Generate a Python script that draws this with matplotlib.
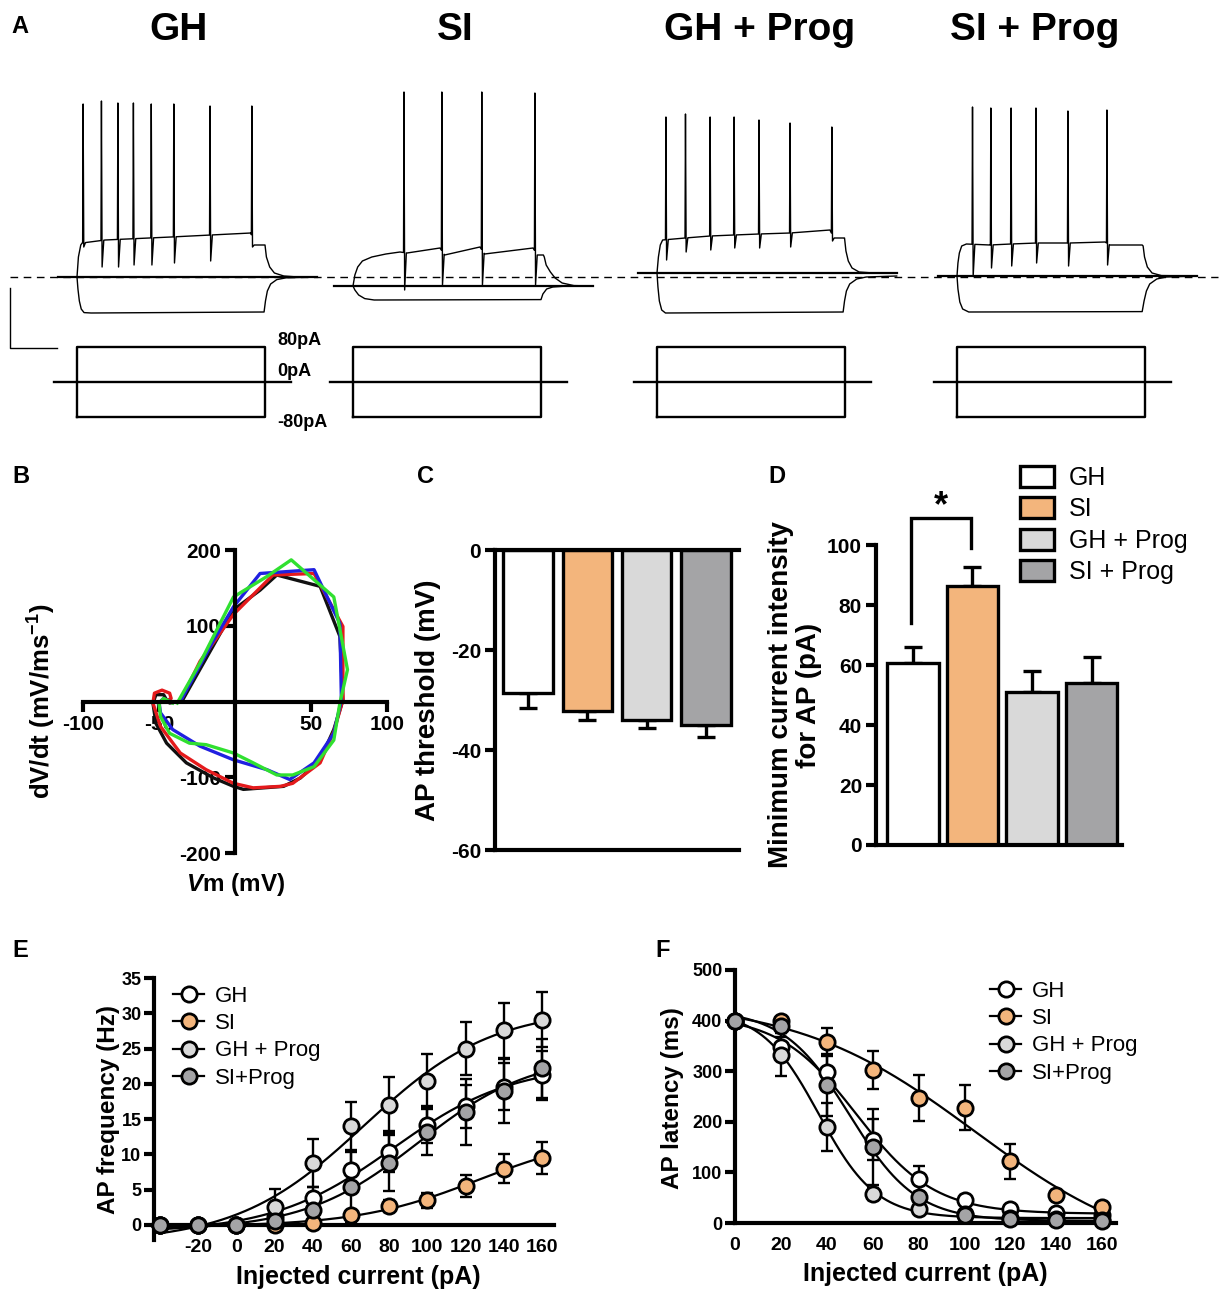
import numpy as np
import matplotlib
matplotlib.use("Agg")
import matplotlib.pyplot as plt
from matplotlib.lines import Line2D
from matplotlib.patches import Patch

plt.rcParams['font.family'] = ['Liberation Sans', 'DejaVu Sans']
plt.rcParams['axes.unicode_minus'] = False
plt.rcParams['mathtext.fontset'] = 'custom'
plt.rcParams['mathtext.rm'] = 'Liberation Sans:bold'
plt.rcParams['mathtext.it'] = 'Liberation Sans:italic:bold'
plt.rcParams['mathtext.bf'] = 'Liberation Sans:bold'
plt.rcParams['mathtext.default'] = 'rm'

# ---------------------------------------------------------------- data
GROUPS = ["GH", "SI", "GH + Prog", "SI + Prog"]
LEGEND_EF = ["GH", "SI", "GH + Prog", "SI+Prog"]
GROUP_COLORS = ["#FFFFFF", "#F3B57C", "#D9D9D9", "#A4A4A6"]

# Panel A: whole-cell current-clamp traces (time in ms, voltage in mV)
STEP_MS = (0, 400)
STEP_PA = 80
TRACE_SPAN_MS = (-40, 510)
STIM_SPAN_MS = (-50, 455)
REST_MV = [-65, -69.5, -63, -64.5]
DASH_MV = -65
SCALE_MS, SCALE_MV = 100, 30

HYP_GH = [(-40, -65), (0, -65), (2, -71), (5, -77), (9, -81), (15, -82.8), (30, -83), (398, -82.5),
          (401, -77), (405, -72), (412, -68.5), (425, -66.3), (445, -65.4), (510, -65)]
HYP_SI = [(-40, -69.5), (0, -69.5), (4, -71.5), (12, -74), (25, -75.8), (45, -76.5), (400, -76.3),
          (404, -73.5), (412, -71), (425, -70), (450, -69.6), (510, -69.5)]
HYP_GHP = [(-40, -63), (0, -63), (2, -70), (5, -77), (10, -81.5), (18, -83), (396, -82.5), (399, -77),
           (403, -72), (410, -68.5), (425, -66), (445, -65), (510, -64.5)]
HYP_SIP = [(-40, -64.5), (0, -64.5), (2, -71), (6, -77.5), (12, -81), (25, -82.5), (394, -82.3),
           (398, -77), (403, -72), (410, -68.5), (425, -66), (445, -65), (510, -64.5)]

ONSET_GH = [(-40, -65), (0, -65), (3, -55), (8, -49), (11, -48)]
ONSET_SI = [(-40, -69.5), (0, -69.5), (4, -64), (10, -60), (20, -57), (40, -55), (70, -53.5), (100, -52.5)]
ONSET_GHP = [(-40, -63), (0, -63), (3, -55), (7, -49), (12, -46.5)]
ONSET_SIP = [(-40, -64.5), (0, -64.5), (2, -58), (5, -53), (10, -49.5), (20, -48.5)]

PLAT_GH = [(11, -48), (60, -46.5), (200, -45), (370, -43), (377, -49), (398, -49)]
PLAT_SI = [(100, -52.5), (115, -53), (185, -50.5), (195, -54), (270, -50), (280, -53.5), (383, -50.5),
           (392, -54), (405, -54)]
PLAT_GHP = [(12, -46.5), (60, -45.5), (113, -44.5), (164, -44), (217, -43.5), (283, -43), (368, -41.5),
            (376, -45.5), (398, -45.5)]
PLAT_SIP = [(20, -48.5), (70, -49), (115, -48.5), (170, -48), (240, -48), (315, -47.5), (325, -49), (394, -49)]

SPK_T_GH = [13, 52, 87, 120, 158, 206, 283, 372]
SPK_PK_GH = [21.5, 23, 22, 22, 21.5, 21.5, 20.5, 20.5]
SPK_TR_GH = [-50, -60, -60, -59, -59, -58, -57, -50]
SPK_T_SI = [108.5, 189, 274, 387]
SPK_PK_SI = [27.5, 27.5, 27.5, 27]
SPK_TR_SI = [-71.5, -69, -69, -69]
SPK_T_GHP = [19, 60.6, 113, 164, 217, 283, 372]
SPK_PK_GHP = [15, 16.5, 15, 15, 13.5, 12, 10]
SPK_TR_GHP = [-56.5, -52.5, -51.5, -50.5, -50.5, -50, -47]
SPK_T_SIP = [33, 72, 115, 168, 236, 319]
SPK_PK_SIP = [20, 19.5, 19.5, 19.5, 18, 18.5]
SPK_TR_SIP = [-64.5, -60.5, -59.5, -58, -59.5, -59]

OFF_GH = [(400, -49), (403, -55), (410, -60), (420, -63), (440, -64.5), (470, -65), (510, -65)]
OFF_SI = [(407, -55), (411, -59), (420, -62.5), (430, -65.5), (445, -68), (470, -69.3), (510, -69.5)]
OFF_GHP = [(399, -45.5), (402, -52), (407, -57), (415, -60.5), (430, -62.5), (460, -63), (510, -63)]
OFF_SIP = [(396, -49.5), (399, -55), (405, -60), (415, -63), (435, -64.3), (510, -64.5)]

HYP = [HYP_GH, HYP_SI, HYP_GHP, HYP_SIP]
ONSET = [ONSET_GH, ONSET_SI, ONSET_GHP, ONSET_SIP]
PLAT = [PLAT_GH, PLAT_SI, PLAT_GHP, PLAT_SIP]
SPK_T = [SPK_T_GH, SPK_T_SI, SPK_T_GHP, SPK_T_SIP]
SPK_PK = [SPK_PK_GH, SPK_PK_SI, SPK_PK_GHP, SPK_PK_SIP]
SPK_TR = [SPK_TR_GH, SPK_TR_SI, SPK_TR_GHP, SPK_TR_SIP]
OFF = [OFF_GH, OFF_SI, OFF_GHP, OFF_SIP]

# Panel B: phase plots (Vm in mV, dV/dt in mV/ms)
PH_BLACK_V = [-35, -1, 16.5, 27.5, 56, 69, 71, 65, 56, 43, 32, 5.5, -1, -14, -32, -45, -52, -54, -52, -47, -45, -43, -40]
PH_BLACK_D = [0, 121, 147, 167, 152, 86, 2, -37, -77, -101, -112, -116, -112, -101, -81, -55, -29, -2, 9, 9, 2, -2, -1]
PH_RED_V = [-36, -23, -1, 25, 52, 71, 71, 65, 56, 38, 30, 12, -1, -19, -36, -49, -54, -53, -48, -43, -42, -46]
PH_RED_D = [0, 53, 115, 167, 169, 99, 2, -40, -81, -108, -112, -114, -108, -90, -68, -33, -2, 11, 15, 11, 4, 0]
PH_BLUE_V = [-36, -14, -1, 16.5, 52, 69, 70, 65, 52, 36, 21, -1, -23, -41, -49, -50, -47, -43]
PH_BLUE_D = [0, 81, 125, 169, 174, 103, 2, -42, -81, -103, -90, -77, -59, -37, -15, -2, 4, 0]
PH_GREEN_V = [-38, -23, -1, 21, 37, 65, 74, 69, 65, 52, 38, 27.5, 12, -1, -19, -30, -43, -49, -50, -47, -41]
PH_GREEN_D = [-2, 51, 138, 165, 187, 138, 42, -2, -51, -86, -97, -97, -81, -68, -57, -55, -42, -20, -2, 4, -2]
PH_COLORS = ["#111111", "#E41A1C", "#2020E0", "#30E030"]

# Panel C / D bars
C_VALUES = [-28.6, -32.2, -34.0, -35.0]
C_ERR = [3.0, 1.7, 1.6, 2.4]
D_VALUES = [60.7, 86.3, 51.0, 54.0]
D_ERR = [5.3, 6.4, 7.0, 8.7]

# Panel E: AP frequency (Hz) vs injected current (pA)
E_X = [-40, -20, 0, 20, 40, 60, 80, 100, 120, 140, 160]
E_GH = [0, 0, 0, 1.1, 3.8, 7.8, 10.4, 14.2, 16.8, 19.6, 21.2]
E_GH_ERR = [0, 0, 0, 0.5, 1.6, 2.6, 2.9, 2.6, 3.0, 3.3, 3.5]
E_SI = [0, 0, 0, 0, 0.3, 1.4, 2.7, 3.5, 5.5, 8.0, 9.5]
E_SI_ERR = [0, 0, 0, 0, 0.3, 0.5, 0.8, 1.1, 1.6, 2.0, 2.3]
E_GHP = [0, 0, 0, 2.6, 8.8, 14.0, 17.0, 20.4, 25.0, 27.6, 29.1]
E_GHP_ERR = [0, 0, 0, 2.5, 3.4, 3.4, 3.9, 3.8, 3.8, 3.9, 3.9]
E_SIP = [0, 0, 0, 0.5, 2.1, 5.4, 8.8, 13.2, 16.0, 19.0, 22.2]
E_SIP_ERR = [0, 0, 0, 0.4, 1.2, 5.1, 4.0, 3.3, 4.7, 4.5, 4.2]

# Panel F: AP latency (ms) vs injected current (pA)
F_X = [0, 20, 40, 60, 80, 100, 120, 140, 160]
F_GH = [400, 348, 299, 165, 87, 45, 28, 20, 15]
F_GH_ERR = [0, 20, 35, 40, 25, 10, 6, 5, 4]
F_SI = [400, 400, 358, 302, 247, 228, 122, 55, 32]
F_SI_ERR = [0, 8, 27, 37, 45, 45, 35, 10, 6]
F_GHP = [400, 333, 190, 57, 28, 18, 10, 8, 5]
F_GHP_ERR = [0, 43, 47, 12, 6, 4, 3, 2, 2]
F_SIP = [400, 390, 272, 150, 52, 15, 8, 5, 3]
F_SIP_ERR = [0, 10, 60, 75, 10, 4, 3, 2, 2]

# ---------------------------------------------------------------- helpers
W, H = 1225, 1300
fig = plt.figure(figsize=(W / 100, H / 100), dpi=100)


def px_axes(x0, y0, x1, y1):
    return fig.add_axes([x0 / W, 1 - y1 / H, (x1 - x0) / W, (y1 - y0) / H])


def ftext(x, y, s, **kw):
    return fig.text(x / W, 1 - y / H, s, **kw)


def dep_trace(onset, plateau, st, pk, tr, offset):
    pt, pv = np.array(plateau).T
    wins = [(t - 1.0, t + 5.0) for t in st]
    pts = list(onset)
    body = [(t, v) for t, v in plateau if not any(a <= t <= b for a, b in wins)]
    for t, p, r in zip(st, pk, tr):
        body += [(t - 1.0, np.interp(t - 1.0, pt, pv)), (t, p), (t + 1.4, r),
                 (t + 5.0, np.interp(t + 5.0, pt, pv))]
    body.sort()
    pts += body + list(offset)
    return np.array(pts).T


def boltzmann_fit(x, y):
    x = np.asarray(x, float)
    y = np.asarray(y, float)
    v50 = np.arange(-40, 260, 0.5)
    ks = np.arange(3, 80, 0.5)
    V, K = np.meshgrid(v50, ks, indexing='ij')
    F = 1.0 / (1.0 + np.exp((V[..., None] - x) / K[..., None]))
    Fm = F.mean(-1)
    ym = y.mean()
    Fc = F - Fm[..., None]
    b = (Fc * (y - ym)).sum(-1) / ((Fc ** 2).sum(-1) + 1e-12)
    a = ym - b * Fm
    sse = ((a[..., None] + b[..., None] * F - y) ** 2).sum(-1)
    i = np.unravel_index(np.argmin(sse), sse.shape)
    return lambda xx: a[i] + b[i] / (1.0 + np.exp((V[i] - xx) / K[i]))


# ---------------------------------------------------------------- panel A
PX_MS, PX_MV, PX_PA = 0.47, 2.0, 0.4375
Y_DASH, Y_ZERO_PA = 277, 382
T_LIM, V_LIM, I_LIM = (-55, 520), (-92, 44), (-110, 110)
ONSET_PX = [77, 353, 657, 957]
TITLE_X = [179, 455, 760, 1035]

axd = px_axes(0, Y_DASH - (V_LIM[1] - DASH_MV) * PX_MV, W, Y_DASH + (DASH_MV - V_LIM[0]) * PX_MV)
axd.set_xlim(0, W)
axd.set_ylim(V_LIM)
axd.axis('off')
axd.plot([10, 1218], [DASH_MV, DASH_MV], color='black', lw=1.0, ls=(0, (5.5, 4)))

for i, g in enumerate(GROUPS):
    on = ONSET_PX[i]
    x0, x1 = on + T_LIM[0] * PX_MS, on + T_LIM[1] * PX_MS
    axv = px_axes(x0, Y_DASH - (V_LIM[1] - DASH_MV) * PX_MV, x1, Y_DASH + (DASH_MV - V_LIM[0]) * PX_MV)
    axv.set_xlim(T_LIM)
    axv.set_ylim(V_LIM)
    axv.axis('off')
    axv.plot(TRACE_SPAN_MS, [REST_MV[i]] * 2, color='black', lw=1.6)
    ht, hv = np.array(HYP[i]).T
    axv.plot(ht, hv, color='black', lw=1.0)
    dt, dv = dep_trace(ONSET[i], PLAT[i], SPK_T[i], SPK_PK[i], SPK_TR[i], OFF[i])
    axv.plot(dt, dv, color='black', lw=1.0)
    if i == 0:
        sb_t = (10 - on) / PX_MS
        sb_v = DASH_MV - (288 - Y_DASH) / PX_MV
        axv.plot([sb_t, sb_t, sb_t + SCALE_MS], [sb_v, sb_v - SCALE_MV, sb_v - SCALE_MV],
                 color='black', lw=1.0, clip_on=False)

    axi = px_axes(x0, Y_ZERO_PA - I_LIM[1] * PX_PA, x1, Y_ZERO_PA - I_LIM[0] * PX_PA)
    axi.set_xlim(T_LIM)
    axi.set_ylim(I_LIM)
    axi.axis('off')
    axi.plot(STIM_SPAN_MS, [0, 0], color='black', lw=1.7)
    s0, s1 = STEP_MS
    axi.plot([s0, s0, s1, s1, s0], [-STEP_PA, STEP_PA, STEP_PA, -STEP_PA, -STEP_PA], color='black', lw=1.7)
    ftext(TITLE_X[i], 40, g, fontsize=28, fontweight='bold', ha='center', va='baseline')

ftext(277, 345, "80pA", fontsize=13, fontweight='bold', va='baseline')
ftext(277, 376, "0pA", fontsize=13, fontweight='bold', va='baseline')
ftext(277, 427, "-80pA", fontsize=13, fontweight='bold', va='baseline')

# panel letters
for lab, x, y in [("A", 20, 33), ("B", 21, 483), ("C", 425, 483), ("D", 777, 483), ("E", 20, 957), ("F", 663, 957)]:
    ftext(x, y, lab, fontsize=17, fontweight='bold', ha='center', va='baseline')

AX_LW = 3.0

# ---------------------------------------------------------------- panel B
axB = px_axes(83, 550, 387, 853)
axB.set_xlim(-100, 100)
axB.set_ylim(-200, 200)
for sp in ['top', 'right']:
    axB.spines[sp].set_visible(False)
axB.spines['left'].set_position(('data', 0))
axB.spines['bottom'].set_position(('data', 0))
for sp in ['left', 'bottom']:
    axB.spines[sp].set_linewidth(AX_LW)
axB.set_xticks([-100, -50, 50, 100])
axB.set_yticks([-200, -100, 100, 200])
axB.tick_params(direction='out', length=7, width=AX_LW, labelsize=15, pad=3)
for t in axB.get_xticklabels() + axB.get_yticklabels():
    t.set_fontweight('bold')
for vv, dd, c in zip([PH_BLACK_V, PH_RED_V, PH_BLUE_V, PH_GREEN_V],
                     [PH_BLACK_D, PH_RED_D, PH_BLUE_D, PH_GREEN_D], PH_COLORS):
    axB.plot(vv, dd, color=c, lw=2.4, solid_joinstyle='round')
ftext(42, 701, r'dV/dt (mV/ms$^{-1}$)', fontsize=18.5, fontweight='bold', rotation=90, ha='center', va='center')
ftext(236, 884, r'$\mathit{V}$m (mV)', fontsize=17.5, fontweight='bold', ha='center', va='center')

# ---------------------------------------------------------------- panel C
axC = px_axes(495, 550, 739, 850)
xs = np.arange(len(GROUPS))
axC.bar(xs, C_VALUES, width=0.84, color=GROUP_COLORS, edgecolor='black', linewidth=2.4, zorder=2)
axC.errorbar(xs, C_VALUES, yerr=[C_ERR, [0] * 4], fmt='none', ecolor='black', elinewidth=2.4,
             capsize=6.5, capthick=2.4, zorder=1)
axC.set_xlim(-0.56, 3.56)
axC.set_ylim(-60, 0)
axC.spines['right'].set_visible(False)
for sp in ['left', 'bottom', 'top']:
    axC.spines[sp].set_linewidth(AX_LW)
axC.set_xticks([])
axC.set_yticks([0, -20, -40, -60])
axC.tick_params(axis='y', direction='out', length=7, width=AX_LW, labelsize=15, pad=3)
for t in axC.get_yticklabels():
    t.set_fontweight('bold')
ftext(428, 700, "AP threshold (mV)", fontsize=20, fontweight='bold', rotation=90, ha='center', va='center')

# ---------------------------------------------------------------- panel D
axD = px_axes(876, 545, 1122, 845)
axD.bar(xs, D_VALUES, width=0.86, color=GROUP_COLORS, edgecolor='black', linewidth=2.4, zorder=2)
axD.errorbar(xs, D_VALUES, yerr=[[0] * 4, D_ERR], fmt='none', ecolor='black', elinewidth=2.4,
             capsize=6.5, capthick=2.4, zorder=1)
axD.set_xlim(-0.62, 3.51)
axD.set_ylim(0, 100)
for sp in ['right', 'top']:
    axD.spines[sp].set_visible(False)
for sp in ['left', 'bottom']:
    axD.spines[sp].set_linewidth(AX_LW)
axD.set_xticks([])
axD.set_yticks(np.arange(0, 101, 20))
axD.tick_params(axis='y', direction='out', length=7, width=AX_LW, labelsize=15, pad=3)
for t in axD.get_yticklabels():
    t.set_fontweight('bold')
SIG_LEFT, SIG_RIGHT, SIG_TOP = 74, 99, 109
axD.plot([xs[0] - 0.03, xs[0] - 0.03, xs[1] - 0.03, xs[1] - 0.03], [SIG_LEFT, SIG_TOP, SIG_TOP, SIG_RIGHT],
         color='black', lw=2.4, clip_on=False, solid_joinstyle='miter')
axD.text(0.47, SIG_TOP - 2, "*", fontsize=26, fontweight='bold', ha='center', va='bottom', clip_on=False)
ftext(795, 695, "Minimum current intensity\nfor AP (pA)", fontsize=20, fontweight='bold', rotation=90,
      ha='center', va='center', multialignment='center', linespacing=1.15)
d_handles = [Patch(facecolor=c, edgecolor='black', linewidth=2.4) for c in GROUP_COLORS]
fig.legend(d_handles, GROUPS, loc='upper left', bbox_to_anchor=(1020 / W, 1 - 466 / H),
           frameon=False, fontsize=18, handlelength=1.35, handleheight=0.9, handletextpad=0.6,
           labelspacing=0.3, borderpad=0, borderaxespad=0)


# ---------------------------------------------------------------- panels E / F
def xy_panel(ax, x, series, errs, order):
    for k in order:
        y = np.array(series[k])
        ax.errorbar(x, y, yerr=errs[k], fmt='none', ecolor='black', elinewidth=1.7, capsize=4.2,
                    capthick=1.7, zorder=3, clip_on=False)
    for k in order:
        f = boltzmann_fit(x, series[k])
        xx = np.linspace(x[0], x[-1] + 2, 300)
        ax.plot(xx, f(xx), color='black', lw=1.6, zorder=4, clip_on=False)
    for k in order:
        ax.plot(x, series[k], 'o', ms=11, mfc=GROUP_COLORS[k], mec='black', mew=2.0, zorder=5 + k,
                clip_on=False, ls='none')


def style_xy(ax):
    for sp in ['right', 'top']:
        ax.spines[sp].set_visible(False)
    for sp in ['left', 'bottom']:
        ax.spines[sp].set_linewidth(AX_LW)
    ax.tick_params(axis='y', direction='out', length=7, width=AX_LW, labelsize=13, pad=2)
    ax.tick_params(axis='x', length=0, labelsize=14, pad=10)
    for t in ax.get_xticklabels() + ax.get_yticklabels():
        t.set_fontweight('bold')


def legend_ef(ax, x, y, fs):
    hs = [Line2D([0], [0], color='black', lw=1.6, marker='o', ms=11, mfc=c, mec='black', mew=2.0)
          for c in GROUP_COLORS]
    fig.legend(hs, LEGEND_EF, loc='upper left', bbox_to_anchor=(x / W, 1 - y / H), frameon=False,
               fontsize=fs, handlelength=1.4, handletextpad=0.5, labelspacing=0.28, borderpad=0,
               borderaxespad=0)


axE = px_axes(154, 978, 554, 1240)
axE.set_xlim(-43.1, 166.3)
axE.set_ylim(-2.13, 35)
axE.spines['bottom'].set_position(('data', 0))
axE.set_xticks(np.arange(-20, 161, 20))
axE.set_yticks(np.arange(0, 36, 5))
style_xy(axE)
xy_panel(axE, np.array(E_X), [E_GH, E_SI, E_GHP, E_SIP], [E_GH_ERR, E_SI_ERR, E_GHP_ERR, E_SIP_ERR],
         [1, 3, 0, 2])
ftext(108, 1110, "AP frequency (Hz)", fontsize=17.5, fontweight='bold', rotation=90, ha='center', va='center')
ftext(358, 1284, "Injected current (pA)", fontsize=18, fontweight='bold', ha='center', va='baseline')
legend_ef(axE, 173, 986, 16)

axF = px_axes(735, 970, 1116, 1223)
axF.set_xlim(0, 166)
axF.set_ylim(0, 500)
axF.set_xticks(np.arange(0, 161, 20))
axF.set_yticks(np.arange(0, 501, 100))
style_xy(axF)
xy_panel(axF, np.array(F_X), [F_GH, F_SI, F_GHP, F_SIP], [F_GH_ERR, F_SI_ERR, F_GHP_ERR, F_SIP_ERR],
         [2, 3, 0, 1])
ftext(673, 1098, "AP latency (ms)", fontsize=17.5, fontweight='bold', rotation=90, ha='center', va='center')
ftext(925, 1281, "Injected current (pA)", fontsize=18, fontweight='bold', ha='center', va='baseline')
legend_ef(axF, 990, 981, 16)

fig.savefig("out.png", dpi=100, facecolor='white')
